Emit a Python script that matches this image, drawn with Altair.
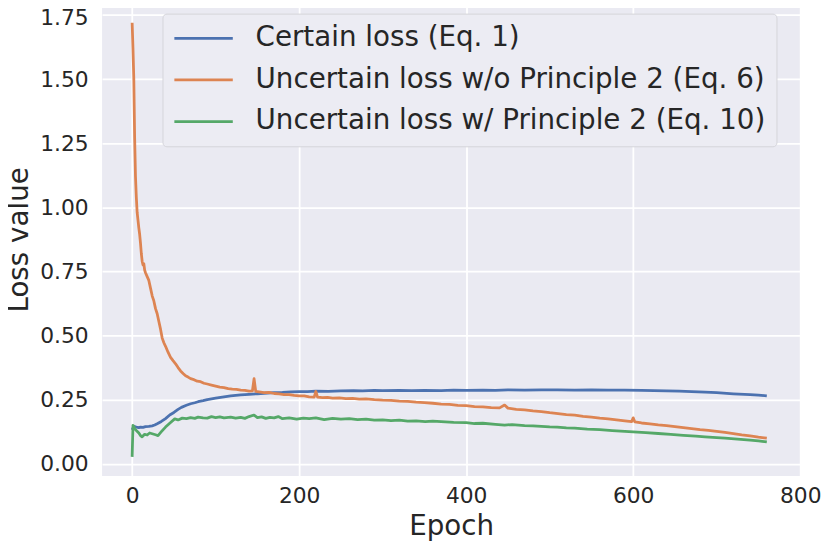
import altair as alt
import pandas as pd

series_names = [
    "Certain loss (Eq. 1)",
    "Uncertain loss w/o Principle 2 (Eq. 6)",
    "Uncertain loss w/ Principle 2 (Eq. 10)",
]
series_colors = ["#4c72b0", "#dd8452", "#55a868"]

x_ticks = [0, 200, 400, 600, 800]
y_ticks = [0.0, 0.25, 0.5, 0.75, 1.0, 1.25, 1.5, 1.75]

# (epoch, loss)
certain_points = [
    (0, 0.132), (2, 0.146), (5, 0.143), (8, 0.141), (10, 0.143), (13, 0.142), (16, 0.145),
    (20, 0.146), (24, 0.148), (27, 0.151), (30, 0.156), (35, 0.165), (40, 0.176), (45, 0.19),
    (50, 0.2), (55, 0.212), (59, 0.22), (65, 0.228), (70, 0.234), (75, 0.238), (79, 0.242),
    (85, 0.246), (90, 0.25), (100, 0.256), (110, 0.261), (118, 0.265), (130, 0.269),
    (140, 0.271), (150, 0.273), (158, 0.275), (170, 0.277), (180, 0.278), (190, 0.28),
    (200, 0.281), (210, 0.281), (220, 0.283), (235, 0.282), (250, 0.284), (265, 0.285),
    (276, 0.284), (290, 0.286), (300, 0.285), (320, 0.286), (335, 0.285), (350, 0.286),
    (370, 0.285), (385, 0.287), (400, 0.286), (420, 0.287), (435, 0.286), (450, 0.288),
    (470, 0.287), (490, 0.288), (509, 0.288), (530, 0.287), (550, 0.288), (570, 0.287),
    (590, 0.287), (610, 0.286), (625, 0.285), (640, 0.284), (655, 0.283), (670, 0.281),
    (686, 0.279), (700, 0.277), (720, 0.273), (740, 0.27), (750, 0.268), (760, 0.265),
]

uncertain_wo_points = [
    (0, 1.72), (1, 1.62), (2, 1.5), (3, 1.27), (4, 1.12), (5, 1.04), (6, 0.98), (7, 0.95),
    (8, 0.92), (9, 0.895), (10, 0.86), (11, 0.82), (12, 0.79), (13, 0.775), (14, 0.78),
    (15, 0.755), (16, 0.745), (18, 0.73), (20, 0.715), (22, 0.685), (24, 0.655), (26, 0.635),
    (28, 0.605), (30, 0.585), (32, 0.555), (34, 0.525), (36, 0.49), (38, 0.472), (40, 0.458),
    (43, 0.435), (46, 0.415), (49, 0.402), (52, 0.39), (55, 0.375), (58, 0.362), (61, 0.352),
    (64, 0.343), (67, 0.338), (70, 0.332), (74, 0.328), (78, 0.322), (82, 0.32), (86, 0.314),
    (90, 0.311), (95, 0.307), (100, 0.303), (105, 0.299), (110, 0.297), (115, 0.293),
    (120, 0.291), (125, 0.29), (130, 0.287), (135, 0.286), (140, 0.283), (144, 0.284),
    (146, 0.332), (148, 0.282), (152, 0.28), (158, 0.277), (164, 0.278), (170, 0.274),
    (176, 0.273), (182, 0.27), (188, 0.27), (194, 0.267), (200, 0.265), (206, 0.265),
    (212, 0.261), (218, 0.26), (220, 0.282), (222, 0.26), (228, 0.258), (234, 0.259),
    (240, 0.256), (248, 0.257), (256, 0.254), (264, 0.255), (272, 0.252), (280, 0.253),
    (290, 0.25), (300, 0.248), (310, 0.247), (320, 0.244), (330, 0.243), (340, 0.24),
    (350, 0.238), (360, 0.236), (370, 0.233), (380, 0.232), (390, 0.228), (400, 0.227),
    (410, 0.223), (420, 0.222), (430, 0.219), (440, 0.218), (446, 0.229), (450, 0.217),
    (460, 0.212), (470, 0.21), (480, 0.206), (490, 0.203), (500, 0.199), (510, 0.196),
    (520, 0.192), (530, 0.19), (540, 0.185), (550, 0.182), (560, 0.178), (570, 0.175),
    (580, 0.171), (590, 0.167), (598, 0.164), (600, 0.179), (602, 0.163), (610, 0.159),
    (620, 0.156), (630, 0.152), (640, 0.149), (650, 0.145), (660, 0.141), (670, 0.137),
    (680, 0.133), (690, 0.13), (700, 0.126), (710, 0.122), (720, 0.118), (730, 0.113),
    (740, 0.109), (750, 0.104), (760, 0.1),
]

uncertain_w_points = [
    (0, 0.027), (1, 0.15), (2, 0.145), (3, 0.137), (5, 0.13), (8, 0.12), (10, 0.11),
    (12, 0.105), (15, 0.115), (18, 0.112), (21, 0.12), (24, 0.117), (28, 0.113), (31, 0.11),
    (35, 0.125), (40, 0.143), (45, 0.158), (51, 0.175), (55, 0.171), (60, 0.178), (65, 0.176),
    (70, 0.18), (75, 0.177), (79, 0.182), (85, 0.179), (90, 0.178), (95, 0.184), (100, 0.18),
    (105, 0.183), (110, 0.179), (118, 0.182), (124, 0.178), (130, 0.181), (135, 0.177),
    (140, 0.184), (146, 0.19), (150, 0.18), (155, 0.183), (160, 0.177), (165, 0.181),
    (170, 0.179), (175, 0.184), (180, 0.176), (188, 0.179), (197, 0.174), (205, 0.178),
    (212, 0.176), (220, 0.179), (230, 0.172), (240, 0.177), (250, 0.174), (260, 0.176),
    (270, 0.172), (280, 0.174), (290, 0.17), (300, 0.171), (310, 0.168), (320, 0.17),
    (330, 0.166), (340, 0.167), (351, 0.164), (360, 0.166), (375, 0.163), (385, 0.161),
    (400, 0.16), (410, 0.157), (420, 0.158), (435, 0.154), (446, 0.151), (455, 0.153),
    (470, 0.149), (480, 0.148), (490, 0.146), (500, 0.144), (509, 0.143), (520, 0.14),
    (530, 0.139), (545, 0.135), (560, 0.133), (575, 0.129), (590, 0.126), (600, 0.124),
    (615, 0.121), (630, 0.118), (645, 0.115), (660, 0.111), (675, 0.108), (686, 0.105),
    (700, 0.102), (710, 0.1), (725, 0.096), (740, 0.092), (750, 0.089), (760, 0.085),
]

all_points = [certain_points, uncertain_wo_points, uncertain_w_points]

color_scale = alt.Scale(domain=series_names, range=series_colors)

layers = []
for name, pts in zip(series_names, all_points):
    df = pd.DataFrame(pts, columns=["epoch", "loss"])
    df["series"] = name
    layer = alt.Chart(df).mark_line(strokeWidth=2.8, strokeJoin="round").encode(
        x=alt.X(
            "epoch:Q",
            scale=alt.Scale(domain=[-36, 800], nice=False, zero=False),
            axis=alt.Axis(values=x_ticks, title="Epoch", labelFlush=False, labelPadding=10,
                          titlePadding=6),
        ),
        y=alt.Y(
            "loss:Q",
            scale=alt.Scale(domain=[-0.048, 1.798], nice=False, zero=False),
            axis=alt.Axis(values=y_ticks, format=".2f", title="Loss value", labelPadding=14,
                          titlePadding=6,
                          labelOffset={"condition": {"test": "datum.value > 1.7", "value": 3},
                                       "value": 0}),
        ),
        color=alt.Color("series:N", scale=color_scale,
                        legend=alt.Legend(title=None, orient="none", legendX=61, legendY=11)),
    )
    layers.append(layer)

chart = alt.layer(*layers).properties(
    width=705,
    height=478,
    autosize=alt.AutoSizeParams(type="none"),
    padding={"left": 95, "top": -8, "right": 22, "bottom": 74},
    background="white",
).configure_view(
    fill="#eaeaf2", stroke=None
).configure_axis(
    domain=False,
    ticks=False,
    grid=True,
    gridColor="white",
    gridWidth=1.8,
    labelFont="DejaVu Sans",
    labelFontSize=22,
    labelColor="#262626",
    titleFont="DejaVu Sans",
    titleFontSize=28,
    titleFontWeight="normal",
    titleColor="#262626",
).configure_legend(
    labelFont="DejaVu Sans",
    labelFontSize=28,
    labelColor="#262626",
    labelLimit=0,
    symbolType="M-1.3,0H4.6",
    symbolSize=400,
    symbolStrokeWidth=2.8,
    labelOffset=55,
    rowPadding=14,
    padding=11,
    fillColor="#ececf3",
    strokeColor="#d4d4da",
    cornerRadius=4,
)

chart.save("out.html", embed_options={"renderer": "svg", "actions": False})
